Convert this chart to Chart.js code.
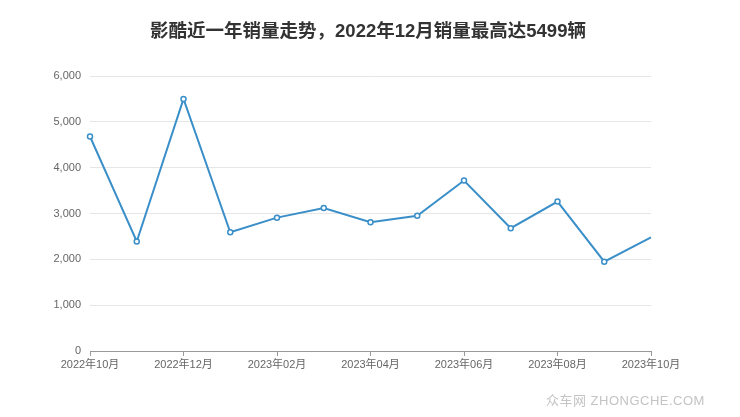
<!DOCTYPE html>
<html lang="zh">
<head>
    <meta charset="UTF-8">
    <title>影酷近一年销量走势</title>
    <style>
        html, body { margin: 0; padding: 0; background: #fff; }
        #wrap { position: relative; width: 740px; height: 417px; }
        #mark { position: absolute; left: 546px; top: 390px; font: 13px "Liberation Sans", "Noto Sans CJK SC", sans-serif; color: #c4c4c4; letter-spacing: 0.5px; }
    </style>
</head>
<body>
<div id="wrap">
    <canvas id="sales_chart" width="740" height="417"></canvas>
    <div id="mark">众车网 ZHONGCHE.COM</div>
</div>
<script src="https://cdn.jsdelivr.net/npm/chart.js@4.4.0/dist/chart.umd.min.js"></script>
<script>
    const titleText = '影酷近一年销量走势，2022年12月销量最高达5499辆';
    const months = ['2022年10月', '2022年11月', '2022年12月', '2023年01月', '2023年02月', '2023年03月', '2023年04月',
        '2023年05月', '2023年06月', '2023年07月', '2023年08月', '2023年09月', '2023年10月'];
    const sales = [4680, 2390, 5499, 2590, 2910, 3120, 2810, 2950, 3720, 2680, 3260, 1950, 2480];
    const yTicks = [0, 1000, 2000, 3000, 4000, 5000, 6000];

    const font = '"Liberation Sans", "Noto Sans CJK SC", sans-serif';

    // title drawn by hand so the plot area stays where it is
    const titlePlugin = {
        id: 'topTitle',
        afterDraw(chart) {
            const c = chart.ctx;
            c.save();
            c.font = 'bold 18.5px ' + font;
            c.fillStyle = '#333';
            c.textAlign = 'center';
            c.textBaseline = 'middle';
            c.fillText(titleText, 368, 32);
            c.restore();
        }
    };

    new Chart(document.getElementById('sales_chart').getContext('2d'), {
        type: 'line',
        plugins: [titlePlugin],
        data: {
            labels: months,
            datasets: [{
                data: sales,
                borderColor: '#3b8fc9',
                borderWidth: 2,
                pointRadius: ctx => ctx.dataIndex === sales.length - 1 ? 0 : 2.5,
                pointBorderWidth: 1.5,
                pointBorderColor: '#3b8fc9',
                pointBackgroundColor: '#fff',
                tension: 0
            }]
        },
        options: {
            responsive: false,
            animation: false,
            layout: { padding: { left: 0, right: 89, top: 76, bottom: 0 } },
            plugins: { legend: { display: false }, tooltip: { enabled: false } },
            scales: {
                x: {
                    offset: false,
                    afterFit: s => { s.height = 66; },
                    border: { color: '#999', width: 1 },
                    grid: {
                        drawOnChartArea: false,
                        tickLength: 5,
                        tickColor: ctx => ctx.index % 2 === 0 ? '#999' : 'rgba(0,0,0,0)'
                    },
                    ticks: {
                        autoSkip: false,
                        maxRotation: 0,
                        padding: 2,
                        color: '#666',
                        font: { size: 11, family: font },
                        callback: (v, i) => i % 2 === 0 ? months[i] : ''
                    }
                },
                y: {
                    min: 0,
                    max: 6000,
                    afterFit: s => { s.width = 90; },
                    afterBuildTicks: s => { s.ticks = yTicks.map(v => ({ value: v })); },
                    border: { display: false },
                    grid: { color: '#e6e6e6', drawTicks: false },
                    ticks: {
                        padding: 9,
                        color: '#666',
                        font: { size: 11, family: font },
                        callback: v => v.toLocaleString('en-US')
                    }
                }
            }
        }
    });
</script>
</body>
</html>
